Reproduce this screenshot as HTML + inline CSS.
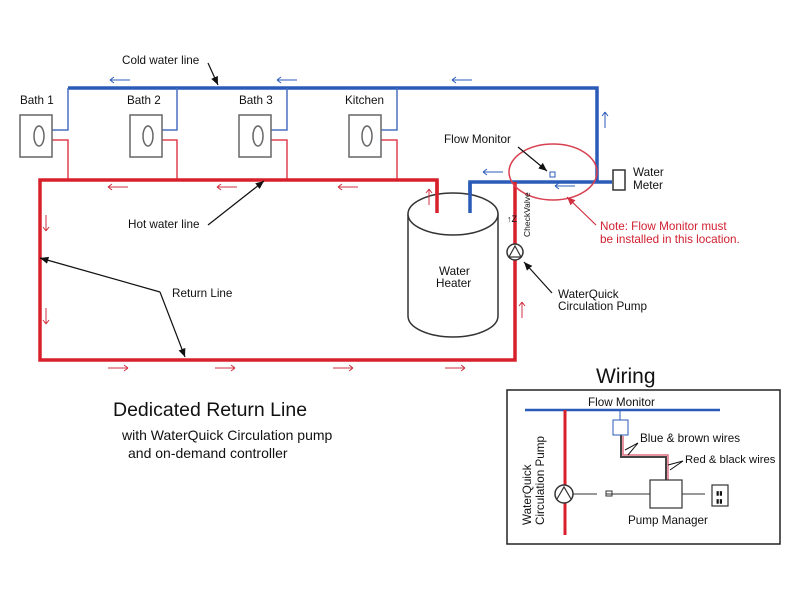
<!DOCTYPE html>
<html><head><style>body{margin:0;background:#fff}svg{display:block}text{font-family:"Liberation Sans",sans-serif;fill:#111}</style></head><body>
<svg width="800" height="600" viewBox="0 0 800 600">
<defs><marker id="ah" markerWidth="8" markerHeight="8" refX="7" refY="4" orient="auto"><path d="M0,1 L7,4 L0,7 z" fill="#111"/></marker>
<marker id="ahr" markerWidth="8" markerHeight="8" refX="7" refY="4" orient="auto"><path d="M0,1 L7,4 L0,7 z" fill="#d03040"/></marker></defs>
<g fill="none">
<path d="M68,88 H597 V182 M470,215 V182 H612" stroke="#2a5bb8" stroke-width="3.5"/>
<g stroke="#4a70c0" stroke-width="1.5">
<path d="M52,130 H68 V88 M162,130 H177 V88 M271,130 H287 V88 M381,130 H397 V88"/></g>
<g stroke="#e04050" stroke-width="1.5">
<path d="M52,140 H68 V180 M162,140 H177 V180 M271,140 H287 V180 M381,140 H397 V180"/></g>
<path d="M437,215 V180 H40 V360 H515 V182" stroke="#d8202c" stroke-width="3.5"/>
<g stroke="#666" stroke-width="1.5">
<rect x="20" y="115" width="32" height="42"/><ellipse cx="39" cy="136" rx="5" ry="10"/>
<rect x="130" y="115" width="32" height="42"/><ellipse cx="148" cy="136" rx="5" ry="10"/>
<rect x="239" y="115" width="32" height="42"/><ellipse cx="258" cy="136" rx="5" ry="10"/>
<rect x="349" y="115" width="32" height="42"/><ellipse cx="367" cy="136" rx="5" ry="10"/>
</g>
<path d="M408,214 V316 A45,21 0 0 0 498,316 V214" stroke="#333" stroke-width="1.5" fill="#fff"/>
<ellipse cx="453" cy="214" rx="45" ry="21" stroke="#333" stroke-width="1.5" fill="#fff"/>
<path d="M437,180 V213" stroke="#d8202c" stroke-width="3.5"/>
<path d="M470,182 V213" stroke="#2a5bb8" stroke-width="3.5"/>
<circle cx="515" cy="252" r="8" stroke="#333" stroke-width="1.5" fill="#fff"/>
<path d="M509,257 L515,246 L521,257 z" stroke="#333" stroke-width="1.2"/>
<rect x="613" y="170" width="12" height="20" stroke="#333" stroke-width="1.5" fill="#fff"/>
<rect x="550" y="172" width="5" height="5" stroke="#2a5bb8" stroke-width="1"/>
<ellipse cx="553" cy="172" rx="44" ry="28" stroke="#d84050" stroke-width="1.5"/>
<g stroke="#111" stroke-width="1.2">
<path d="M208,63 L218,85" marker-end="url(#ah)"/>
<path d="M208,225 L264,181" marker-end="url(#ah)"/>
<path d="M160,292 L40,258" marker-end="url(#ah)"/>
<path d="M160,292 L185,357" marker-end="url(#ah)"/>
<path d="M518,147 L547,171" marker-end="url(#ah)"/>
<path d="M552,293 L524,262" marker-end="url(#ah)"/>
</g>
<path d="M596,225 L567,197" stroke="#d03040" stroke-width="1.2" marker-end="url(#ahr)"/>
<g stroke="#2a5bb8" stroke-width="1"><path d="M110,80 h20 M110,80 l4,-3 M110,80 l4,3 M277,80 h20 M277,80 l4,-3 M277,80 l4,3 M452,80 h20 M452,80 l4,-3 M452,80 l4,3 M483,172 h20 M483,172 l4,-3 M483,172 l4,3 M555,186 h20 M555,186 l4,-3 M555,186 l4,3 M605,128 v-16 M605,112 l-3,4 M605,112 l3,4"/></g>
<g stroke="#d03040" stroke-width="1"><path d="M108,187 h20 M108,187 l4,-3 M108,187 l4,3 M217,187 h20 M217,187 l4,-3 M217,187 l4,3 M338,187 h20 M338,187 l4,-3 M338,187 l4,3 M46,215 v16 M46,231 l-3,-4 M46,231 l3,-4 M46,308 v16 M46,324 l-3,-4 M46,324 l3,-4 M108,368 h20 M128,368 l-4,-3 M128,368 l-4,3 M215,368 h20 M235,368 l-4,-3 M235,368 l-4,3 M333,368 h20 M353,368 l-4,-3 M353,368 l-4,3 M445,368 h20 M465,368 l-4,-3 M465,368 l-4,3 M522,318 v-16 M522,302 l-3,4 M522,302 l3,4 M429,205 v-16 M429,189 l-3,4 M429,189 l3,4"/></g>
<rect x="507" y="390" width="273" height="154" stroke="#222" stroke-width="1.5"/>
<path d="M525,410 H720" stroke="#2a5bb8" stroke-width="2.5"/>
<path d="M565,410 V535" stroke="#d8202c" stroke-width="3"/>
<path d="M620,410 V420" stroke="#2a5bb8" stroke-width="1"/>
<rect x="613" y="420" width="15" height="15" stroke="#2a5bb8" stroke-width="1"/>
<path d="M621,435 V457 H666 V480" stroke="#444" stroke-width="2"/>
<path d="M623,436 V455 H668 V480" stroke="#e07080" stroke-width="1.5"/>
<circle cx="564" cy="494" r="9" stroke="#333" stroke-width="1.5" fill="#fff"/>
<path d="M557,499 L564,487 L571,499" stroke="#333" stroke-width="1.2"/>
<path d="M573,494 H597 M606,494 H650 M682,494 H705" stroke="#333" stroke-width="1"/>
<rect x="606" y="491" width="6" height="5" stroke="#333" stroke-width="1"/>
<rect x="650" y="480" width="32" height="28" stroke="#333" stroke-width="1.2"/>
<rect x="712" y="485" width="16" height="21" stroke="#333" stroke-width="1.2"/>
<g stroke="#111" stroke-width="1"><path d="M638,443 L625,450 M638,443 L628,455 M683,461 L668,465 M683,461 L670,470"/></g>
</g>
<g font-size="11.7">
<text x="122" y="64">Cold water line</text>
<text x="20" y="104">Bath 1</text><text x="127" y="104">Bath 2</text><text x="239" y="104">Bath 3</text><text x="345" y="104">Kitchen</text>
<text x="128" y="228">Hot water line</text>
<text x="172" y="297">Return Line</text>
<text x="444" y="143">Flow Monitor</text>
<text x="633" y="176">Water</text><text x="633" y="189">Meter</text>
<text x="439" y="275">Water</text><text x="436" y="287">Heater</text>
<text x="558" y="298">WaterQuick</text><text x="558" y="310">Circulation Pump</text>
<text x="600" y="230" style="fill:#d02030">Note:  Flow Monitor must</text>
<text x="600" y="243" style="fill:#d02030">be installed in this location.</text>
<text x="507" y="222" font-size="9">↑Z</text>
<text transform="translate(530,237) rotate(-90)" font-size="8.5">CheckValve</text>
<text x="113" y="416" font-size="19.5">Dedicated Return Line</text>
<text x="122" y="440" font-size="14">with WaterQuick Circulation pump</text>
<text x="128" y="458" font-size="14">and on-demand controller</text>
<text x="596" y="383" font-size="21">Wiring</text>
<text x="588" y="406">Flow Monitor</text>
<text x="640" y="442">Blue &amp; brown wires</text>
<text x="685" y="463" font-size="11.3">Red &amp; black wires</text>
<text x="628" y="524">Pump Manager</text>
<text transform="translate(531,525) rotate(-90)">WaterQuick</text>
<text transform="translate(544,525) rotate(-90)">Circulation Pump</text>
<text x="716" y="495" font-size="6">▮▮</text><text x="716" y="503" font-size="6">▮▮</text>
</g>
</svg></body></html>
